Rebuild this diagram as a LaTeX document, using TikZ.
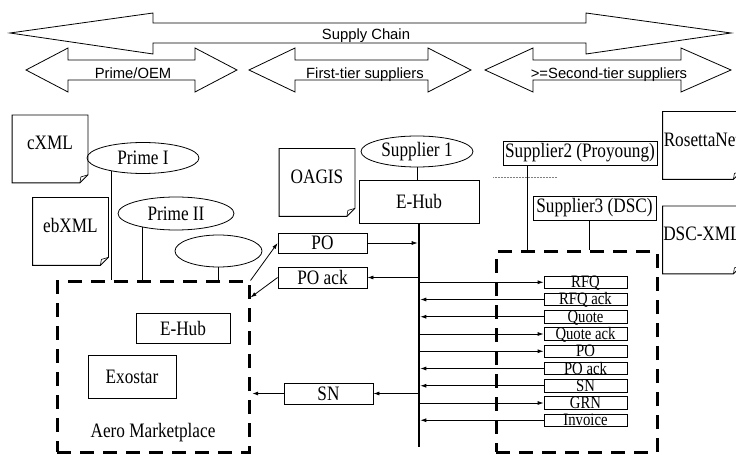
\documentclass[tikz,border=0pt]{standalone}
\usepackage{fontspec}
\setmainfont{Liberation Serif}[FakeStretch=0.84]
\newfontfamily\chainfont{Liberation Sans}
\usetikzlibrary{shapes.geometric,arrows.meta}

\tikzset{
  box/.style={draw, inner sep=0pt},
  oval/.style={draw, ellipse, inner sep=0pt},
  paper/.style={minimum width=75pt, minimum height=67pt, inner sep=0pt,
    text height=13pt, text depth=11pt,
    append after command={\pgfextra{\let\doc\tikzlastnode
      \draw (\doc.north west) -- (\doc.north east) -- ([yshift=8pt]\doc.south east)
        -- ([xshift=-8pt]\doc.south east) -- (\doc.south west) -- cycle;
      \draw[line width=0.6pt] ([yshift=8pt]\doc.south east) -- ([shift={(-7pt,6pt)}]\doc.south east)
        -- ([xshift=-8pt]\doc.south east);}}},
  msgbox/.style={draw, minimum width=83pt, minimum height=12.5pt, inner sep=0pt,
    text height=11pt, text depth=0pt, font=\fontsize{17.5}{18}\selectfont},
  market/.style={draw, dash pattern=on 14pt off 9pt, line width=3pt, inner sep=0pt},
  msg/.style={-{Latex[length=6pt,width=4pt]}},
  tier/.style={font=\chainfont\fontsize{14.8}{15}\selectfont, anchor=base}
}

\begin{document}
\begin{tikzpicture}[x=1pt, y=-1pt, line width=0.8pt, line join=miter,
  font=\fontsize{20.5}{21}\selectfont]
\useasboundingbox (0,0) rectangle (736,454);
\clip (0,0) rectangle (736,454);

% supply chain bands
\draw (10,33) -- (153,13) -- (153,23) -- (586,23) -- (586,13) -- (731,33)
  -- (586,54) -- (586,43) -- (153,43) -- (153,54) -- cycle;
\foreach \a/\b/\c/\d in {26/68/195/237, 249/295/428/471, 485/533/681/731}
  \draw (\a,70) -- (\b,48) -- (\b,60) -- (\c,60) -- (\c,48) -- (\d,70)
    -- (\c,92) -- (\c,80) -- (\b,80) -- (\b,92) -- cycle;
\node[tier] (chain) at (366,40) {Supply Chain};
\node[tier] (oem) at (133,79) {Prime/OEM};
\node[tier] (tier1) at (365,79) {First-tier suppliers};
\node[tier] (tier2) at (609,79) {>=Second-tier suppliers};

% standards
\node[paper] (cxml) at (50,149) {cXML};
\node[paper] (ebxml) at (70.5,231.5) {ebXML};
\node[paper] (oagis) at (317,182.5) {OAGIS};
\node[paper, minimum width=78pt] (rosetta) at (702,145.5) {RosettaNet};
\node[paper, minimum width=78pt] (dscxml) at (702,240) {DSC-XML};

% primes
\node[oval, minimum width=112pt, minimum height=31pt] (prime1) at (143,158) {Prime I};
\node[oval, minimum width=116pt, minimum height=33pt] (prime2) at (176,213.5) {Prime II};
\node[oval, minimum width=87pt, minimum height=32pt] (blank) at (218.5,251) {};

\node[market, minimum width=192pt, minimum height=170pt] (aero) at (153,367) {};
\node[box, minimum width=94pt, minimum height=30pt] (hub0) at (183,328) {E-Hub};
\node[box, minimum width=88pt, minimum height=43pt] (exostar) at (132,376.5) {Exostar};
\node (aerolbl) at (153,433) {Aero Marketplace};

\draw (prime1.203) -- (prime1.203 |- aero.north);
\draw (prime2.202) -- (prime2.202 |- aero.north);
\draw (blank.south) -- (blank.south |- aero.north);

% first tier
\node[oval, minimum width=112pt, minimum height=31pt] (supp1) at (417,151.5) {Supplier 1};
\node[box, minimum width=120pt, minimum height=43pt] (hub1) at (419,201.5) {E-Hub};
\draw (supp1.south) -- (supp1.south |- hub1.north);
\coordinate (bus) at (hub1.south);
\coordinate (busend) at (419,447);
\draw[line width=2.6pt] (bus) -- (busend);

\node[box, minimum width=89pt, minimum height=20pt] (po) at (322.5,243) {PO};
\node[box, minimum width=89pt, minimum height=21pt] (poack) at (322.5,277.5) {PO ack};
\node[box, minimum width=89pt, minimum height=21pt] (sn) at (328.5,393.5) {SN};
\draw[msg, shorten >=1.3pt] (po.east) -- (po.east -| bus);
\draw[msg] (bus |- poack.east) -- (poack.east);
\draw[msg] (bus |- sn.east) -- (sn.east);
\draw[msg] (aero.north east) -- (po.west);
\draw[msg] (poack.west) -- ([yshift=-17pt]aero.north east);
\draw[msg, line width=1.4pt, shorten >=1.5pt] (sn.west) -- (sn.west -| aero.east);

% second tier
\node[box, minimum width=154pt, minimum height=24pt] (supp2) at (580,153) {Supplier2 (Proyoung)};
\node[box, minimum width=123pt, minimum height=24pt] (supp3) at (594.5,208) {Supplier3 (DSC)};
\node[market, minimum width=161pt, minimum height=200pt] (dsc) at (576.5,352) {};
\coordinate (s2foot) at ([xshift=25pt]supp2.south west);
\coordinate (s3foot) at ([xshift=-5pt]supp3.south);
\draw (s2foot) -- (s2foot |- dsc.north);
\draw (s3foot) -- (s3foot |- dsc.north);
\draw[densely dotted, line width=0.5pt, gray] (493,177) -- (557,177);

\foreach \txt/\dir [count=\i from 0] in {RFQ/1, RFQ ack/0, Quote/0, Quote ack/1,
    PO/1, PO ack/0, SN/0, GRN/1, Invoice/0}{
  \node[msgbox] (msg\i) at (585.5,282.25+17.25*\i) {\txt};
  \ifnum\dir=1
    \draw[msg] (msg\i.west -| bus) -- (msg\i.west);
  \else
    \draw[msg, shorten >=1.3pt] (msg\i.west) -- (msg\i.west -| bus);
  \fi
}
\end{tikzpicture}
\end{document}
